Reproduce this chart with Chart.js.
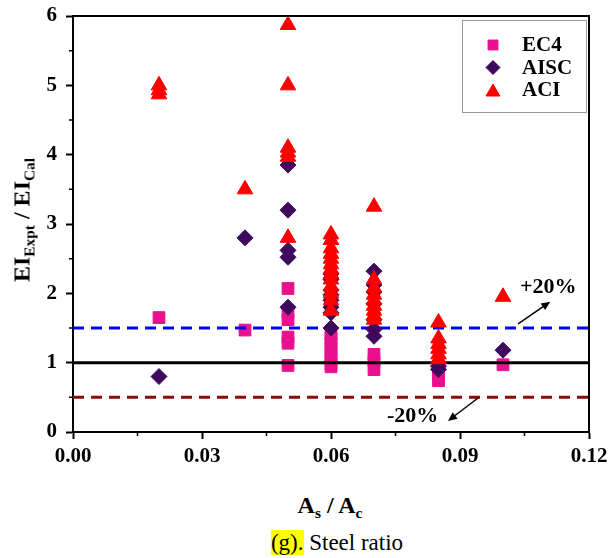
<!DOCTYPE html>
<html>
<head>
<meta charset="utf-8">
<script src="https://cdn.jsdelivr.net/npm/chart.js@4"></script>
<style>
    html, body { margin: 0; padding: 0; background: #ffffff; }
    #wrap { position: relative; width: 608px; height: 558px; font-family: 'Liberation Serif', 'Times New Roman', serif; }
    #chart { position: absolute; left: 0; top: 0; }
    .label { position: absolute; white-space: nowrap; color: #000; transform: translate(-50%, -50%); }
    #ytitle { left: 22px; top: 220px; font-weight: bold; font-size: 24px; transform: translate(-50%, -50%) rotate(-90deg); }
    #xtitle { left: 330px; top: 505px; font-weight: bold; font-size: 24px; }
    #caption { left: 337px; top: 543px; font-size: 23px; }
    #caption span { background: #ffff00; }
    sub { font-size: 64%; vertical-align: -0.35em; line-height: 0; }
</style>
</head>
<body>
<div id="wrap">
    <canvas id="chart" width="608" height="470"></canvas>
    <div class="label" id="ytitle">EI<sub>Expt</sub> / EI<sub>Cal</sub></div>
    <div class="label" id="xtitle">A<sub>s</sub> / A<sub>c</sub></div>
    <div class="label" id="caption"><span>(g).</span> Steel ratio</div>
</div>
<script>
(() => {
    'use strict';

    // values
    const seriesNames = ['EC4', 'AISC', 'ACI'];

    const ec4Ratio = [0.02, 0.04, 0.05, 0.05, 0.05, 0.05, 0.05, 0.05,
        0.06, 0.06, 0.06, 0.06, 0.06, 0.06, 0.06, 0.06,
        0.07, 0.07, 0.07, 0.085, 0.085, 0.085, 0.1];
    const ec4Value = [1.65, 1.47, 2.07, 1.72, 1.62, 1.37, 1.28, 0.96,
        1.42, 1.35, 1.28, 1.2, 1.12, 1.05, 0.98, 0.94,
        1.12, 1.02, 0.9, 0.92, 0.82, 0.74, 0.97];

    const aiscRatio = [0.02, 0.04, 0.05, 0.05, 0.05, 0.05, 0.05,
        0.06, 0.06, 0.06, 0.06, 0.06, 0.06, 0.06, 0.06,
        0.07, 0.07, 0.07, 0.07, 0.07, 0.07, 0.07,
        0.085, 0.085, 0.085, 0.1];
    const aiscValue = [0.8, 2.8, 3.85, 3.2, 2.62, 2.52, 1.8,
        2.28, 2.2, 2.05, 1.98, 1.9, 1.8, 1.72, 1.5,
        2.32, 2.12, 2.02, 1.85, 1.62, 1.48, 1.38,
        1.0, 0.95, 0.9, 1.18];

    const aciRatio = [0.02, 0.02, 0.02, 0.04, 0.05, 0.05, 0.05, 0.05, 0.05, 0.05,
        0.06, 0.06, 0.06, 0.06, 0.06, 0.06, 0.06, 0.06, 0.06, 0.06, 0.06, 0.06, 0.06,
        0.07, 0.07, 0.07, 0.07, 0.07, 0.07, 0.07, 0.07, 0.07,
        0.085, 0.085, 0.085, 0.085, 0.085, 0.085, 0.1];
    const aciValue = [5.0, 4.93, 4.87, 3.5, 5.87, 5.0, 4.1, 4.03, 3.97, 2.8,
        2.85, 2.77, 2.65, 2.57, 2.5, 2.42, 2.35, 2.28, 2.2, 2.1, 2.0, 1.9, 1.75,
        3.25, 2.2, 2.08, 1.98, 1.9, 1.82, 1.75, 1.68, 1.62,
        1.58, 1.35, 1.27, 1.2, 1.12, 1.05, 1.95];

    const xRange = [0, 0.12];
    const xTicks = [0, 0.03, 0.06, 0.09, 0.12];
    const yTicks = [0, 1, 2, 3, 4, 5, 6];
    const upperBound = 1.5;
    const perfectLine = 1.0;
    const lowerBound = 0.5;

    const colours = {
        ec4: '#e8108c',
        aisc: '#3f0a5e',
        aci: '#ff0000',
        upper: '#0000ff',
        lower: '#8b0a0a',
    };

    const serif = "'Liberation Serif', 'Times New Roman', serif";

    const toPoints = (xs, ys) => xs.map((x, i) => ({ x, y: ys[i] }));
    const flat = (level) => xRange.map((x) => ({ x, y: level }));

    const frameAndMinor = {
        id: 'frameAndMinor',
        afterDraw(chart) {
            const { ctx, chartArea: a, scales } = chart;
            ctx.save();
            ctx.strokeStyle = '#000';
            ctx.lineWidth = 2;
            ctx.beginPath();
            ctx.moveTo(a.left, a.top);
            ctx.lineTo(a.right, a.top);
            ctx.lineTo(a.right, a.bottom);
            ctx.stroke();

            ctx.lineWidth = 1.5;
            ctx.beginPath();
            for (let i = 0; i < xTicks.length - 1; i++) {
                const px = scales.x.getPixelForValue((xTicks[i] + xTicks[i + 1]) / 2);
                ctx.moveTo(px, a.bottom);
                ctx.lineTo(px, a.bottom + 4);
            }
            for (let i = 0; i < yTicks.length - 1; i++) {
                const py = scales.y.getPixelForValue((yTicks[i] + yTicks[i + 1]) / 2);
                ctx.moveTo(a.left, py);
                ctx.lineTo(a.left - 4, py);
            }
            ctx.stroke();
            ctx.restore();
        },
    };

    const arrowNotes = {
        id: 'arrowNotes',
        afterDraw(chart) {
            const { ctx, scales } = chart;
            const notes = [
                { text: '+20%', at: [0.1105, 2.08], from: [0.1035, 1.56], to: [0.111, 1.88] },
                { text: '-20%', at: [0.079, 0.22], from: [0.0942, 0.49], to: [0.0872, 0.16] },
            ];
            ctx.save();
            notes.forEach((n) => {
                const x0 = scales.x.getPixelForValue(n.from[0]);
                const y0 = scales.y.getPixelForValue(n.from[1]);
                const x1 = scales.x.getPixelForValue(n.to[0]);
                const y1 = scales.y.getPixelForValue(n.to[1]);
                const ang = Math.atan2(y1 - y0, x1 - x0);
                ctx.strokeStyle = '#000';
                ctx.fillStyle = '#000';
                ctx.lineWidth = 1.5;
                ctx.beginPath();
                ctx.moveTo(x0, y0);
                ctx.lineTo(x1 - 6 * Math.cos(ang), y1 - 6 * Math.sin(ang));
                ctx.stroke();
                ctx.beginPath();
                ctx.moveTo(x1, y1);
                ctx.lineTo(x1 - 9 * Math.cos(ang) + 4 * Math.sin(ang), y1 - 9 * Math.sin(ang) - 4 * Math.cos(ang));
                ctx.lineTo(x1 - 9 * Math.cos(ang) - 4 * Math.sin(ang), y1 - 9 * Math.sin(ang) + 4 * Math.cos(ang));
                ctx.closePath();
                ctx.fill();

                ctx.font = 'bold 22px ' + serif;
                ctx.textAlign = 'center';
                ctx.textBaseline = 'middle';
                ctx.fillText(n.text, scales.x.getPixelForValue(n.at[0]), scales.y.getPixelForValue(n.at[1]));
            });
            ctx.restore();
        },
    };

    const boxLegend = {
        id: 'boxLegend',
        afterDraw(chart) {
            const { ctx, chartArea: a } = chart;
            const left = a.right - 127;
            const top = a.top + 4;
            const styles = [
                { style: 'rect', radius: 7, colour: colours.ec4 },
                { style: 'rectRot', radius: 7, colour: colours.aisc },
                { style: 'triangle', radius: 8, colour: colours.aci },
            ];
            ctx.save();
            ctx.fillStyle = '#fff';
            ctx.fillRect(left, top, 125, 93);
            ctx.strokeStyle = '#9a9a9a';
            ctx.lineWidth = 1;
            ctx.strokeRect(left + 0.5, top + 0.5, 124, 92);
            seriesNames.forEach((name, i) => {
                const cy = top + 25 + i * 22.5;
                const s = styles[i];
                ctx.fillStyle = s.colour;
                ctx.strokeStyle = s.colour;
                Chart.helpers.drawPoint(ctx, { pointStyle: s.style, radius: s.radius, borderWidth: 1 },
                    left + 31, s.style === 'triangle' ? cy + 2 : cy);
                ctx.fillStyle = '#000';
                ctx.font = 'bold 21px ' + serif;
                ctx.textAlign = 'left';
                ctx.textBaseline = 'middle';
                ctx.fillText(name, left + 60, cy + 1);
            });
            ctx.restore();
        },
    };

    const lineSet = (level, colour, dash, order) => ({
        type: 'line',
        data: flat(level),
        borderColor: colour,
        borderWidth: 3,
        borderDash: dash,
        pointRadius: 0,
        fill: false,
        order,
    });

    new Chart(document.getElementById('chart'), {
        type: 'scatter',
        data: {
            datasets: [
                {
                    label: 'ACI',
                    data: toPoints(aciRatio, aciValue),
                    pointStyle: 'triangle',
                    pointRadius: 9,
                    backgroundColor: colours.aci,
                    borderColor: colours.aci,
                    borderWidth: 1,
                    order: 1,
                },
                {
                    label: 'AISC',
                    data: toPoints(aiscRatio, aiscValue),
                    pointStyle: 'rectRot',
                    pointRadius: 8,
                    backgroundColor: colours.aisc,
                    borderColor: colours.aisc,
                    borderWidth: 1,
                    order: 2,
                },
                lineSet(upperBound, colours.upper, [11, 7], 3),
                lineSet(perfectLine, '#000000', [], 4),
                {
                    label: 'EC4',
                    data: toPoints(ec4Ratio, ec4Value),
                    pointStyle: 'rect',
                    pointRadius: 8.3,
                    backgroundColor: colours.ec4,
                    borderColor: colours.ec4,
                    borderWidth: 1,
                    order: 5,
                },
                lineSet(lowerBound, colours.lower, [11, 7], 6),
            ],
        },
        plugins: [frameAndMinor, arrowNotes, boxLegend],
        options: {
            responsive: false,
            animation: false,
            layout: {
                padding: { top: 16, right: 19, left: 0, bottom: 0 },
            },
            scales: {
                x: {
                    type: 'linear',
                    min: xRange[0],
                    max: xRange[1],
                    afterFit: (scale) => {
                        scale.height = 38;
                        scale.paddingLeft = 0;
                        scale.paddingRight = 0;
                    },
                    afterBuildTicks: (scale) => { scale.ticks = xTicks.map((value) => ({ value })); },
                    ticks: {
                        color: '#000',
                        font: { family: serif, size: 21, weight: 'bold' },
                        padding: 5,
                        maxRotation: 0,
                        autoSkip: false,
                        callback: (v) => Number(v).toFixed(2),
                    },
                    grid: {
                        drawOnChartArea: false,
                        drawTicks: true,
                        tickLength: 7,
                        tickWidth: 2,
                        tickColor: '#000',
                    },
                    border: { display: true, color: '#000', width: 2 },
                },
                y: {
                    type: 'linear',
                    min: yTicks[0],
                    max: yTicks[yTicks.length - 1],
                    afterFit: (scale) => {
                        scale.width = 73;
                        scale.paddingTop = 0;
                        scale.paddingBottom = 0;
                    },
                    afterBuildTicks: (scale) => { scale.ticks = yTicks.map((value) => ({ value })); },
                    ticks: {
                        color: '#000',
                        font: { family: serif, size: 21, weight: 'bold' },
                        padding: 9,
                        autoSkip: false,
                    },
                    grid: {
                        drawOnChartArea: false,
                        drawTicks: true,
                        tickLength: 7,
                        tickWidth: 2,
                        tickColor: '#000',
                    },
                    border: { display: true, color: '#000', width: 2 },
                },
            },
            plugins: {
                legend: { display: false },
                tooltip: { enabled: false },
            },
        },
    });
})();
</script>
</body>
</html>
